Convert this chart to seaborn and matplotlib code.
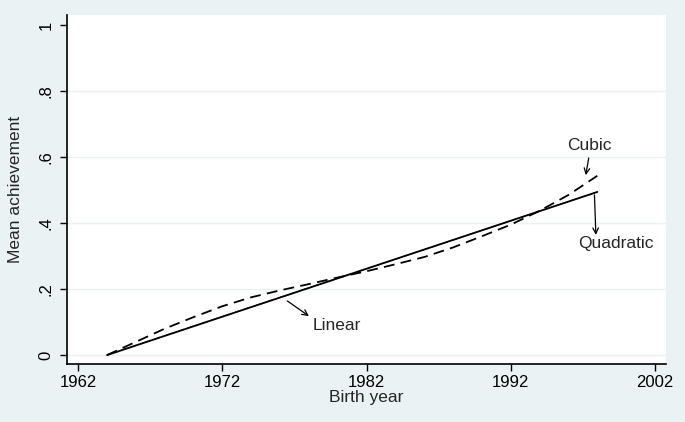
import numpy as np
import pandas as pd
import matplotlib
matplotlib.use('Agg')
import matplotlib.pyplot as plt
import seaborn as sns

# values
linear_years = [1964, 1998]
linear_vals = [0.0, 0.494]

quad_years = [1964, 1972, 1981, 1990, 1998]
quad_vals = [0.0, 0.117, 0.247, 0.378, 0.494]

cubic_years = [1964, 1966, 1968, 1970, 1972, 1974, 1976, 1978, 1980,
               1982, 1984, 1986, 1988, 1990, 1992, 1994, 1996, 1998]
cubic_vals = [0.0, 0.040, 0.080, 0.115, 0.148, 0.175, 0.196, 0.215, 0.235,
              0.254, 0.275, 0.297, 0.326, 0.360, 0.395, 0.437, 0.485, 0.543]

x_ticks = [1962, 1972, 1982, 1992, 2002]
y_ticks = [0, 0.2, 0.4, 0.6, 0.8, 1.0]
y_tick_labels = ['0', '.2', '.4', '.6', '.8', '1']

bg = '#eaf2f3'

sns.set_style('white')
plt.rcParams['font.family'] = ['Liberation Sans', 'DejaVu Sans']

fig = plt.figure(figsize=(6.85, 4.22), dpi=100, facecolor=bg)
ax = fig.add_axes([0.0982, 0.1367, 0.8736, 0.8278])
ax.set_facecolor('white')

for yv in y_ticks[:-1]:
    ax.axhline(yv, color=bg, lw=1.0, zorder=0)

sns.lineplot(x=linear_years, y=linear_vals, ax=ax, color='black', lw=1.3)
sns.lineplot(x=quad_years, y=quad_vals, ax=ax, color='black', lw=0.9,
             linestyle=(0, (1, 1)))
sns.lineplot(x=cubic_years, y=cubic_vals, ax=ax, color='black', lw=1.3,
             linestyle=(0, (6, 3.5)))

ax.set_xlim(1961.24, 2002.74)
ax.set_ylim(-0.028, 1.03)
ax.set_xticks(x_ticks)
ax.set_yticks(y_ticks)
ax.set_yticklabels(y_tick_labels, rotation=90, va='center')
ax.tick_params(axis='both', direction='out', length=5, width=1, colors='black',
               labelsize=12, left=True, bottom=True)
ax.tick_params(axis='y', pad=5)
ax.tick_params(axis='x', pad=3)

for side in ['top', 'right']:
    ax.spines[side].set_visible(False)
for side in ['left', 'bottom']:
    ax.spines[side].set_color('black')
    ax.spines[side].set_linewidth(1.2)

ax.set_xlabel('Birth year', fontsize=12.5, labelpad=0)
ax.set_ylabel('Mean achievement', fontsize=12.5, labelpad=11)

arrow = dict(arrowstyle='->', color='black', lw=0.9, shrinkA=0, shrinkB=0)
ax.annotate('', xy=(1997.2, 0.545), xytext=(1997.4, 0.597), arrowprops=arrow)
ax.text(1997.47, 0.636, 'Cubic', ha='center', va='center', fontsize=12.5)
ax.annotate('', xy=(1997.9, 0.364), xytext=(1997.8, 0.485), arrowprops=arrow)
ax.text(1999.3, 0.339, 'Quadratic', ha='center', va='center', fontsize=12.5)
ax.annotate('', xy=(1978.0, 0.118), xytext=(1976.5, 0.164), arrowprops=arrow)
ax.text(1979.9, 0.091, 'Linear', ha='center', va='center', fontsize=12.5)

fig.savefig('out.png', dpi=100, facecolor=bg)
